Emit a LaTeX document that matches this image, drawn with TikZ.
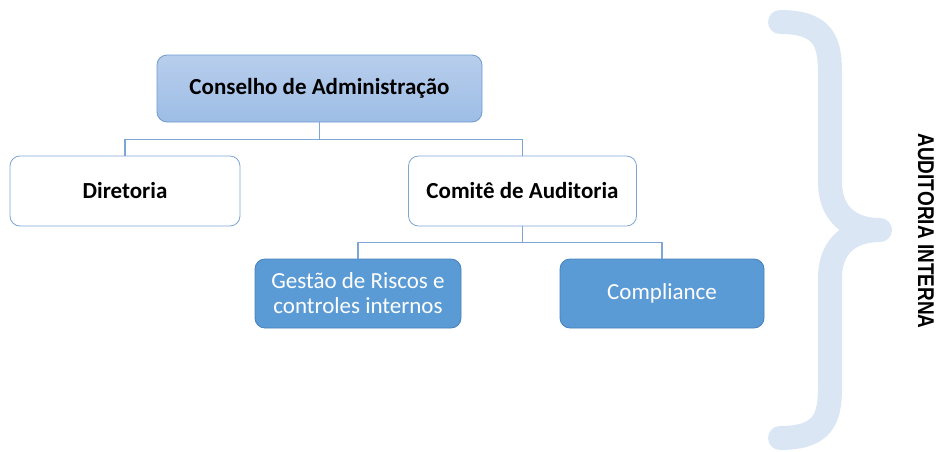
\documentclass[tikz,border=0pt]{standalone}
\usepackage{fontspec}
\setmainfont{Carlito}
\newfontfamily\arialfont{Liberation Sans}[BoldFont={Liberation Sans Bold}]
\usepackage{tikz}
\usetikzlibrary{positioning}
\usepackage{xcolor}
\definecolor{orgline}{RGB}{125,165,214}
\definecolor{orgedge}{RGB}{110,155,210}
\definecolor{orgtop}{RGB}{184,206,236}
\definecolor{orgbot}{RGB}{157,189,230}
\definecolor{orgfill}{RGB}{91,155,213}
\definecolor{orgdark}{RGB}{70,128,190}
\definecolor{bracecol}{RGB}{218,230,244}
\tikzstyle{headbox} = [draw=orgedge, thick, rounded corners=10pt, top color=orgtop, bottom color=orgbot, font=\fontsize{23}{26}\selectfont\bfseries, text=black]
\tikzstyle{plainbox} = [draw=orgline, thick, rounded corners=10pt, fill=white, font=\fontsize{23}{26}\selectfont\bfseries, text=black]
\tikzstyle{unitbox} = [draw=orgdark, thick, rounded corners=10pt, fill=orgfill, font=\fontsize{23}{26}\selectfont, text=white, align=center]
\tikzstyle{conn} = [line width=1.5pt, color=orgline]

\begin{document}
\begin{tikzpicture}[x=1pt, y=-1pt]
\useasboundingbox (0,0) rectangle (937,451);

% Brace
\draw[line width=24pt, bracecol, line cap=round, line join=round]
  (780,22) .. controls (822,22) and (830,40) .. (830,72) -- (830,182)
  .. controls (830,212) and (848,230) .. (880,230)
  .. controls (848,230) and (830,248) .. (830,278) -- (830,388)
  .. controls (830,420) and (822,438) .. (780,438);
\node[font=\arialfont\fontsize{19}{22}\selectfont\bfseries, rotate=-90, yscale=1.2] (auditoria) at (926,231) {AUDITORIA INTERNA};

% Boxes
\node[headbox, minimum width=325pt, minimum height=67pt] (conselho) at (319.5,88.5) {Conselho de Administração};
\node[plainbox, minimum width=230pt, minimum height=70pt] (diretoria) at (125,191) {Diretoria};
\node[plainbox, minimum width=228pt, minimum height=70pt] (comite) at (522.5,191) {Comitê de Auditoria};
\node[unitbox, minimum width=206pt, minimum height=69pt] (gestao) at (358,293.5) {Gestão de Riscos e\\[-1pt]controles internos};
\node[unitbox, minimum width=204pt, minimum height=69pt] (compliance) at (662,293.5) {Compliance};

% Connectors
\draw[conn] (conselho.south) -- ++(0,17) -| (diretoria.north);
\draw[conn] (conselho.south) -- ++(0,17) -| (comite.north);
\draw[conn] (comite.south) -- ++(0,16) -| (gestao.north);
\draw[conn] (comite.south) -- ++(0,16) -| (compliance.north);
\end{tikzpicture}
\end{document}
